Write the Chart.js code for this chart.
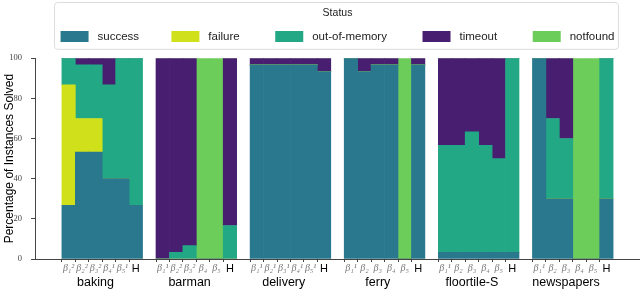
<!DOCTYPE html>
<html>
<head>
<meta charset="utf-8">
<script src="https://cdn.jsdelivr.net/npm/chart.js@4.4.1/dist/chart.umd.min.js"></script>
<style>
  html, body { margin: 0; padding: 0; background: #fff; }
  #wrap { width: 640px; height: 305px; }
</style>
</head>
<body>
<div id="wrap"><canvas id="myChart"></canvas></div>
<script>
// domains, each with six planners
const groups = ['baking', 'barman', 'delivery', 'ferry', 'floortile-S', 'newspapers']

const barLabels = [
    ['β₁²', 'β₂²', 'β₃²', 'β₄¹', 'β₅¹', 'H'],
    ['β₁¹', 'β₂²', 'β₃²', 'β₄', 'β₅', 'H'],
    ['β₁¹', 'β₂¹', 'β₃¹', 'β₄¹', 'β₅¹', 'H'],
    ['β₁¹', 'β₂', 'β₃', 'β₄', 'β₅', 'H'],
    ['β₁¹', 'β₂', 'β₃', 'β₄', 'β₅', 'H'],
    ['β₁¹', 'β₂', 'β₃', 'β₄', 'β₅', 'H']
]

// percentages, six per domain, in the order of groups
const success = [
    26.7, 53.3, 53.3, 40, 40, 26.7,
    0, 0, 0, 0, 0, 0,
    96.7, 96.7, 96.7, 96.7, 96.7, 93.3,
    100, 93.3, 96.7, 96.7, 0, 96.7,
    3.3, 3.3, 3.3, 3.3, 3.3, 3.3,
    100, 30, 30, 0, 0, 30
]
const failure = [
    60, 16.7, 16.7, 0, 0, 0,
    0, 0, 0, 0, 0, 0,
    0, 0, 0, 0, 0, 0,
    0, 0, 0, 0, 0, 0,
    0, 0, 0, 0, 0, 0,
    0, 0, 0, 0, 0, 0
]
const outOfMemory = [
    13.3, 26.7, 26.7, 46.7, 60, 73.3,
    0, 3.3, 6.7, 0, 0, 16.7,
    0, 0, 0, 0, 0, 0,
    0, 0, 0, 0, 0, 0,
    53.3, 53.3, 60, 53.3, 46.7, 96.7,
    0, 40, 30, 0, 0, 70
]
const timeout = [
    0, 3.3, 3.3, 13.3, 0, 0,
    100, 96.7, 93.3, 0, 0, 83.3,
    3.3, 3.3, 3.3, 3.3, 3.3, 6.7,
    0, 6.7, 3.3, 3.3, 0, 3.3,
    43.3, 43.3, 36.7, 43.3, 50, 0,
    0, 30, 40, 0, 0, 0
]
const notfound = [
    0, 0, 0, 0, 0, 0,
    0, 0, 0, 100, 100, 0,
    0, 0, 0, 0, 0, 0,
    0, 0, 0, 0, 100, 0,
    0, 0, 0, 0, 0, 0,
    0, 0, 0, 100, 100, 0
]

const yTicks = [0, 20, 40, 60, 80, 100]

/* slots: two empty at each end, one empty between domains */
const toSlots = (values, empty) => {
    const out = [empty, empty]
    groups.forEach((g, gi) => {
        if (gi > 0) out.push(empty)
        for (let k = 0; k < 6; k++) out.push(values[gi * 6 + k])
    })
    out.push(empty, empty)
    return out
}

const labels = toSlots(barLabels.flat(), '')
const groupCenter = gi => 2 + gi * 7 + 2

const serie = (label, values, color) => ({
    label,
    data: toSlots(values, null),
    backgroundColor: color,
    borderWidth: 0,
    barPercentage: 1,
    categoryPercentage: 1
})

const legendFrame = {
    id: 'legendFrame',
    beforeDraw(chart) {
        const lg = chart.legend
        const hb = lg && lg.legendHitBoxes
        if (!hb || !hb.length) return
        const last = hb[hb.length - 1]
        const l = hb[0].left - 6, r = last.left + last.width + 4
        const t = lg.top + 0.5, b = lg.bottom - 3, rad = 3
        const ctx = chart.ctx
        ctx.save()
        ctx.beginPath()
        ctx.moveTo(l + rad, t)
        ctx.arcTo(r, t, r, b, rad)
        ctx.arcTo(r, b, l, b, rad)
        ctx.arcTo(l, b, l, t, rad)
        ctx.arcTo(l, t, r, t, rad)
        ctx.closePath()
        ctx.fillStyle = '#fff'
        ctx.fill()
        ctx.strokeStyle = '#dcdcdc'
        ctx.lineWidth = 1
        ctx.stroke()
        ctx.restore()
    }
}

const groupNames = {
    id: 'groupNames',
    afterDraw(chart) {
        const x = chart.scales.x
        const ctx = chart.ctx
        ctx.save()
        ctx.font = '12.5px "Liberation Sans", sans-serif'
        ctx.fillStyle = '#000'
        ctx.textAlign = 'center'
        ctx.textBaseline = 'middle'
        groups.forEach((g, gi) => {
            ctx.fillText(g, x.getPixelForValue(groupCenter(gi)), chart.chartArea.bottom + 24)
        })
        ctx.restore()
    }
}

const ctx = document.getElementById('myChart').getContext('2d')

new Chart(ctx, {
    type: 'bar',
    data: {
        labels,
        datasets: [
            serie('success', success, '#2a788e'),
            serie('failure', failure, '#d0e11c'),
            serie('out-of-memory', outOfMemory, '#22a884'),
            serie('timeout', timeout, '#481f70'),
            serie('notfound', notfound, '#6ccd5a')
        ]
    },
    options: {
        responsive: true,
        maintainAspectRatio: false,
        animation: false,
        layout: { padding: { top: 2, left: 0, right: 0, bottom: 0 } },
        plugins: {
            tooltip: { enabled: false },
            title: { display: true, text: '', weight: 500, padding: 0, font: { size: 4.9 } },
            legend: {
                position: 'top',
                fullSize: false,
                align: 'center',
                title: {
                    display: true,
                    text: 'Status',
                    color: '#222',
                    font: { size: 10.5, family: '"Liberation Sans", sans-serif' },
                    padding: { top: 6.25, bottom: 0 }
                },
                labels: {
                    boxWidth: 28,
                    boxHeight: 11,
                    padding: 10,
                    color: '#222',
                    font: { size: 11.5, family: '"Liberation Sans", sans-serif' },
                    generateLabels(chart) {
                        const items = Chart.defaults.plugins.legend.labels.generateLabels(chart)
                        const gaps = ['       ', '        ', '        ', '        ', '']
                        items.forEach((it, i) => { it.text = ' ' + it.text + gaps[i] })
                        return items
                    }
                }
            }
        },
        scales: {
            x: {
                stacked: true,
                offset: true,
                grid: {
                    display: true,
                    drawOnChartArea: false,
                    drawTicks: true,
                    tickLength: 3,
                    color: c => (c.tick && c.tick.label) ? '#444' : 'rgba(0,0,0,0)'
                },
                border: { display: true, color: '#444', width: 1 },
                ticks: {
                    autoSkip: false,
                    maxRotation: 0,
                    minRotation: 0,
                    padding: 0,
                    color: c => (c.tick && c.tick.label === 'H') ? '#000' : '#777',
                    font: c => (c.tick && c.tick.label === 'H')
                        ? { size: 11, family: '"Liberation Sans", sans-serif' }
                        : { size: 10, family: '"Liberation Serif", serif', style: 'italic' }
                },
                afterFit: s => { s.height = 46 }
            },
            y: {
                stacked: true,
                min: 0,
                max: 100,
                afterBuildTicks: s => { s.ticks = yTicks.map(v => ({ value: v })) },
                grid: { display: true, drawOnChartArea: false, drawTicks: true, tickLength: 4, color: '#444' },
                border: { display: true, color: '#444', width: 1 },
                ticks: {
                    padding: 9,
                    color: '#444',
                    font: { size: 8.5, family: '"Liberation Serif", serif' }
                },
                title: {
                    display: true,
                    text: 'Percentage of Instances Solved',
                    color: '#000',
                    font: { size: 12, family: '"Liberation Sans", sans-serif' },
                    padding: { top: 2, bottom: 0 }
                },
                afterFit: s => { s.width = 35 }
            }
        }
    },
    plugins: [legendFrame, groupNames]
})
</script>
</body>
</html>
